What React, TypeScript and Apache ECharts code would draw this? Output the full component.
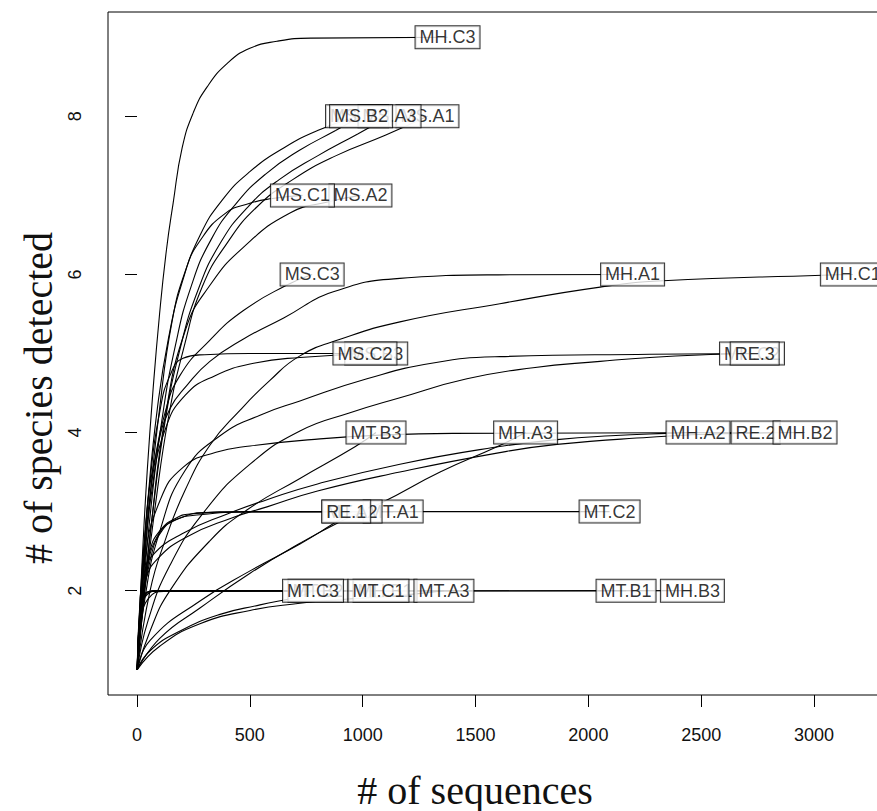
import React, { useEffect, useRef } from "react";
import * as echarts from "echarts";

// ---- data (reads, species) ----
const MH_C3 = [[1,1],[10,1.6],[25,2.5],[45,3.5],[70,4.5],[100,5.5],[130,6.3],[160,6.9],[200,7.6],[250,8.05],[310,8.37],[400,8.67],[500,8.86],[620,8.95],[770,8.99],[1376,9]];
const MS_B1 = [[1,1],[20,2.0],[50,3.2],[90,4.3],[140,5.2],[200,5.9],[280,6.5],[380,6.95],[500,7.3],[650,7.6],[800,7.82],[975,8]];
const MS_B2 = [[1,1],[25,1.9],[60,3.0],[110,4.15],[170,5.1],[240,5.85],[330,6.45],[440,6.9],[570,7.27],[720,7.57],[880,7.82],[993,8]];
const MS_A3 = [[1,1],[30,1.95],[70,3.0],[125,4.15],[190,5.05],[270,5.8],[370,6.4],[490,6.85],[630,7.2],[800,7.5],[980,7.78],[1119,8]];
const MS_A1 = [[1,1],[35,2.0],[80,3.05],[140,4.2],[210,5.1],[290,5.85],[400,6.4],[530,6.85],[690,7.2],[880,7.5],[1100,7.76],[1287,8]];
const MS_C1 = [[1,1],[20,1.9],[55,3.1],[100,4.3],[155,5.4],[215,6.05],[280,6.43],[390,6.77],[500,6.9],[600,6.96],[733,7]];
const MS_A2 = [[1,1],[22,1.7],[60,2.75],[125,4.2],[215,5.3],[320,5.85],[470,6.34],[680,6.78],[850,6.92],[990,7]];
const MS_C3 = [[1,1],[18,1.85],[44,2.85],[80,3.65],[124,4.25],[190,4.72],[320,5.16],[470,5.54],[660,5.86],[776,6]];
const MH_A1 = [[1,1],[40,2.9],[90,3.8],[146,4.3],[222,4.6],[323,4.9],[470,5.18],[650,5.45],[870,5.78],[1165,5.95],[1600,5.995],[2196,6]];
const MH_C1 = [[1,1],[58,2.0],[124,2.63],[213,3.27],[323,3.84],[456,4.28],[589,4.66],[722,4.97],[900,5.18],[1165,5.4],[1608,5.63],[2052,5.84],[2331,5.92],[3035,5.99],[3172,6]];
const MS_C2 = [[1,1],[22,2.13],[58,3.39],[102,4.28],[146,4.72],[204,4.94],[300,4.985],[500,5],[1010,5]];
const MS_B3 = [[1,1],[27,2.13],[66,3.27],[124,4.03],[213,4.47],[346,4.72],[523,4.88],[722,4.95],[1060,5]];
const RE_3 = [[1,1],[35,1.9],[102,2.76],[213,3.52],[368,3.96],[545,4.22],[722,4.4],[1019,4.68],[1312,4.88],[1608,4.96],[2273,4.99],[2737,5]];
const MH_C2 = [[1,1],[49,1.62],[146,2.32],[301,3.01],[501,3.6],[722,4.02],[944,4.25],[1165,4.44],[1462,4.68],[1755,4.82],[2052,4.9],[2273,4.95],[2583,4.99],[2725,5]];
const RE_2 = [[1,1],[35,2.38],[102,3.14],[204,3.56],[350,3.75],[501,3.83],[811,3.92],[1100,3.97],[1400,3.99],[2741,4]];
const MH_A2 = [[1,1],[12,1.8],[30,2.2],[70,2.45],[200,2.72],[400,2.97],[576,3.15],[800,3.35],[1165,3.6],[1577,3.81],[1861,3.91],[2100,3.96],[2348,3.99],[2486,4]];
const MH_B2 = [[1,1],[15,1.75],[40,2.15],[90,2.4],[220,2.68],[420,2.92],[576,3.06],[800,3.26],[1165,3.5],[1595,3.74],[1861,3.85],[2273,3.94],[2583,3.985],[2960,4]];
const MT_B3 = [[1,1],[58,1.49],[146,2.0],[323,2.63],[487,3.02],[722,3.42],[966,3.82],[1059,4]];
const MH_A3 = [[1,1],[102,1.4],[279,1.78],[501,2.22],[722,2.6],[913,2.89],[1090,3.12],[1343,3.5],[1595,3.82],[1722,4]];
const RE_1 = [[1,1],[22,1.87],[58,2.51],[102,2.76],[168,2.91],[235,2.97],[501,3.0],[927,3]];
const MT_A2 = [[1,1],[58,1.37],[279,1.87],[501,2.25],[722,2.59],[855,2.82],[953,3]];
const MT_A1 = [[1,1],[18,1.62],[44,2.25],[93,2.7],[168,2.89],[279,2.96],[500,2.995],[1135,3]];
const MT_C2 = [[1,1],[22,1.75],[58,2.38],[111,2.76],[191,2.92],[323,2.99],[722,3.0],[2094,3]];
const MT_C3 = [[1,1],[58,1.24],[191,1.49],[368,1.7],[545,1.82],[722,1.93],[780,2]];
const MT_A3 = [[1,1],[102,1.3],[279,1.58],[501,1.75],[722,1.84],[868,1.88],[1165,1.94],[1360,2]];
const MT_B2 = [[1,1],[10,1.6],[25,1.9],[60,1.99],[802,2]];
const MT_C1 = [[1,1],[15,1.7],[35,1.93],[80,2],[1070,2]];
const MH_B1 = [[1,1],[20,1.75],[45,1.95],[100,2],[1099,2]];
const MT_B1 = [[1,1],[12,1.65],[30,1.92],[70,1.995],[2167,2]];
const MH_B3 = [[1,1],[18,1.6],[50,1.9],[120,1.99],[2461,2]];

// label drawing order (later ones on top)
const CURVES: [string, number[][]][] = [
  ["MH.C3", MH_C3],
  ["MS.A1", MS_A1], ["MS.B1", MS_B1], ["MS.A3", MS_A3], ["MS.B2", MS_B2],
  ["MS.A2", MS_A2], ["MS.C1", MS_C1],
  ["MS.C3", MS_C3], ["MH.A1", MH_A1], ["MH.C1", MH_C1],
  ["MS.B3", MS_B3], ["MS.C2", MS_C2], ["MH.C2", MH_C2], ["RE.3", RE_3],
  ["MT.B3", MT_B3], ["MH.A3", MH_A3], ["MH.A2", MH_A2], ["RE.2", RE_2], ["MH.B2", MH_B2],
  ["MT.A1", MT_A1], ["MT.A2", MT_A2], ["RE.1", RE_1], ["MT.C2", MT_C2],
  ["MT.B2", MT_B2], ["MT.C3", MT_C3], ["MH.B1", MH_B1], ["MT.C1", MT_C1], ["MT.A3", MT_A3], ["MT.B1", MT_B1], ["MH.B3", MH_B3],
];

const X_TICKS = [0, 500, 1000, 1500, 2000, 2500, 3000];
const Y_TICKS = [2, 4, 6, 8];
const X_RANGE = [-128.5, 3341];
const Y_RANGE = [0.68, 9.32];

export default function App() {
  const ref = useRef<HTMLDivElement>(null);
  useEffect(() => {
    if (!ref.current) return;
    const chart = echarts.init(ref.current, undefined, { renderer: "svg" });
    const lineSeries = CURVES.map(([name, pts]) => ({
      name,
      type: "line",
      data: pts,
      symbol: "none",
      smooth: 0.5,
      silent: true,
      lineStyle: { color: "#000", width: 1.1 },
      z: 2,
    }));
    const labelSeries = {
      type: "scatter",
      silent: true,
      symbolSize: 1,
      itemStyle: { color: "rgba(0,0,0,0)" },
      z: 5,
      data: CURVES.map(([name, pts]) => {
        const last = pts[pts.length - 1];
        return { value: [last[0], last[1]], name };
      }),
      label: {
        show: true,
        position: "inside",
        formatter: (p: any) => p.name,
        fontFamily: "Liberation Sans",
        fontSize: 18,
        lineHeight: 18,
        color: "#000",
        backgroundColor: "#fff",
        borderColor: "#000",
        borderWidth: 1,
        padding: [2, 4, 2, 4],
      },
    };
    chart.setOption({
      animation: false,
      backgroundColor: "#fff",
      grid: {
        left: 108,
        top: 12,
        width: 783,
        height: 683,
        show: true,
        borderColor: "#000",
        borderWidth: 1,
        backgroundColor: "transparent",
      },
      xAxis: {
        type: "value",
        min: X_RANGE[0],
        max: X_RANGE[1],
        splitLine: { show: false },
        axisLine: { show: false },
        axisTick: { show: true, length: 12, customValues: X_TICKS, lineStyle: { color: "#000", width: 1 } },
        axisLabel: {
          customValues: X_TICKS,
          formatter: (v: number) => String(v),
          margin: 31,
          fontFamily: "Liberation Sans",
          fontSize: 18,
          color: "#111",
        },
      },
      yAxis: {
        type: "value",
        min: Y_RANGE[0],
        max: Y_RANGE[1],
        splitLine: { show: false },
        axisLine: { show: false },
        axisTick: { show: true, length: 12, customValues: Y_TICKS, lineStyle: { color: "#000", width: 1 } },
        axisLabel: {
          customValues: Y_TICKS,
          formatter: (v: number) => String(v),
          rotate: 90,
          margin: 24,
          fontFamily: "Liberation Sans",
          fontSize: 18,
          color: "#111",
        },
      },
      graphic: [
        {
          type: "text",
          x: 475,
          y: 790,
          style: {
            text: "# of sequences",
            font: "40px 'Liberation Serif'",
            fill: "#111",
            textAlign: "center",
            textVerticalAlign: "middle",
          },
        },
        {
          type: "text",
          x: 38,
          y: 398,
          rotation: Math.PI / 2,
          style: {
            text: "# of species detected",
            font: "40px 'Liberation Serif'",
            fill: "#111",
            textAlign: "center",
            textVerticalAlign: "middle",
          },
        },
      ],
      series: [...lineSeries, labelSeries],
    });
    return () => chart.dispose();
  }, []);
  return (
    <div style={{ position: "fixed", left: 0, top: 0, width: 877, height: 811, overflow: "hidden", background: "#fff" }}>
      <div ref={ref} style={{ position: "absolute", left: 0, top: 0, width: 910, height: 811 }} />
    </div>
  );
}
